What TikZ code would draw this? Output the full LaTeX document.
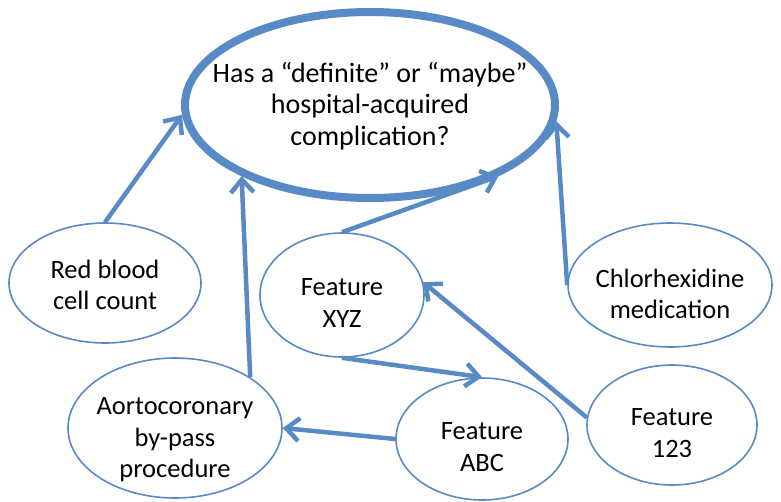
\documentclass[tikz,border=0pt]{standalone}
\usepackage{fontspec}
\setmainfont{Carlito}
\usetikzlibrary{shapes.geometric,arrows.meta}
\definecolor{edgeblue}{RGB}{88,138,197}
\tikzset{
  bubble/.style={ellipse, draw=edgeblue, line width=1.6pt, fill=white, inner sep=0pt},
  goal/.style={bubble, line width=8pt},
  caption/.style={align=center, inner sep=0pt, font=\fontsize{26.5}{31.5}\selectfont},
  goalcaption/.style={caption, font=\fontsize{28}{31.5}\selectfont},
  link/.style={draw=edgeblue, line width=4.5pt,
    -{Straight Barb[length=13pt,width=23pt,line width=4.5pt]}},
}
\begin{document}
\begin{tikzpicture}[x=1pt,y=-1pt]
\useasboundingbox (0,0) rectangle (781,501);
% ellipses
\node[goal, minimum width=370pt, minimum height=186pt] (main) at (370,105) {};
\node[bubble, minimum width=192pt, minimum height=120pt] (rbc) at (105,283) {};
\node[bubble, minimum width=214pt, minimum height=140pt] (acb) at (175,428) {};
\node[bubble, minimum width=164pt, minimum height=124pt] (xyz) at (342,295) {};
\node[bubble, minimum width=172pt, minimum height=122pt] (abc) at (482,439) {};
\node[bubble, minimum width=204pt, minimum height=124pt] (chl) at (670,285) {};
\node[bubble, minimum width=170pt, minimum height=120pt] (f123) at (672,425) {};
% captions, set a little below each centre
\node[goalcaption] (main-t) at ([yshift=-1pt]main.center)
  {Has a “definite” or “maybe”\\hospital-acquired\\complication?};
\node[caption] (rbc-t) at ([yshift=-2pt]rbc.center) {Red blood\\cell count};
\node[caption] (acb-t) at ([yshift=-12pt]acb.center) {Aortocoronary\\by-pass\\procedure};
\node[caption] (xyz-t) at ([yshift=-8pt]xyz.center) {Feature\\XYZ};
\node[caption] (abc-t) at ([yshift=-8pt]abc.center) {Feature\\ABC};
\node[caption] (chl-t) at ([yshift=-9pt]chl.center) {Chlorhexidine\\medication};
\node[caption] (f123-t) at ([yshift=-8pt]f123.center) {Feature\\123};
% influences
\draw[link] (rbc.north) -- (main.183);
\draw[link] (acb.34) -- (main.209);
\draw[link] (xyz.north) -- (main.331);
\draw[link] (chl.west) -- (main.355);
\draw[link] (xyz.south) -- (abc.north);
\draw[link] (abc.west) -- (acb.east);
\draw[link] (f123.175) -- (xyz.9);
\end{tikzpicture}
\end{document}
